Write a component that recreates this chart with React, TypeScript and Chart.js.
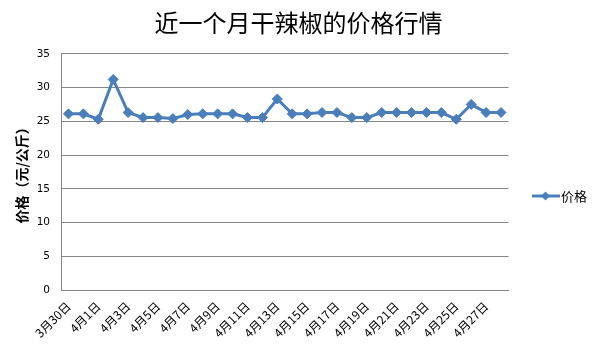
import React, { useEffect, useRef } from "react";
import { Chart, registerables } from "chart.js";

Chart.register(...registerables);

const titleText = "近一个月干辣椒的价格行情";
const yAxisTitle = "价格（元/公斤）";
const seriesName = "价格";

const categories = [
  "3月30日", "3月31日", "4月1日", "4月2日", "4月3日", "4月4日", "4月5日", "4月6日",
  "4月7日", "4月8日", "4月9日", "4月10日", "4月11日", "4月12日", "4月13日", "4月14日",
  "4月15日", "4月16日", "4月17日", "4月18日", "4月19日", "4月20日", "4月21日", "4月22日",
  "4月23日", "4月24日", "4月25日", "4月26日", "4月27日", "4月28日",
];

const prices = [
  26.1, 26.1, 25.3, 31.2, 26.3, 25.55, 25.55, 25.4,
  26.0, 26.1, 26.1, 26.1, 25.55, 25.55, 28.3, 26.1,
  26.1, 26.3, 26.3, 25.55, 25.55, 26.3, 26.3, 26.3,
  26.3, 26.3, 25.3, 27.5, 26.3, 26.3,
];

const yTicks = [0, 5, 10, 15, 20, 25, 30, 35];

const BLUE = "#4A7EBB";
const GRID = "#868686";

function makeLegendIcon(): HTMLCanvasElement {
  const c = document.createElement("canvas");
  c.width = 28;
  c.height = 10;
  const ctx = c.getContext("2d")!;
  ctx.strokeStyle = BLUE;
  ctx.lineWidth = 3;
  ctx.beginPath();
  ctx.moveTo(0, 5);
  ctx.lineTo(28, 5);
  ctx.stroke();
  ctx.fillStyle = BLUE;
  ctx.beginPath();
  ctx.moveTo(14, 0.5);
  ctx.lineTo(18.5, 5);
  ctx.lineTo(14, 9.5);
  ctx.lineTo(9.5, 5);
  ctx.closePath();
  ctx.fill();
  return c;
}

export default function App() {
  const ref = useRef<HTMLCanvasElement | null>(null);

  useEffect(() => {
    document.body.style.margin = "0";
    if (!ref.current) return;
    const icon = makeLegendIcon();
    const chart = new Chart(ref.current, {
      type: "line",
      data: {
        labels: categories,
        datasets: [
          {
            label: seriesName,
            data: prices,
            borderColor: BLUE,
            backgroundColor: BLUE,
            borderWidth: 3,
            pointStyle: "rectRot",
            pointRadius: 5,
            pointBorderWidth: 1,
            pointBorderColor: BLUE,
            pointBackgroundColor: BLUE,
            tension: 0,
          },
        ],
      },
      options: {
        animation: false,
        responsive: false,
        devicePixelRatio: 1,
        layout: { padding: { left: 0, right: 0, top: 0, bottom: 0 } },
        plugins: {
          title: {
            display: true,
            text: titleText,
            color: "#000",
            font: { family: "'Noto Sans CJK SC'", size: 24, weight: "normal" },
            padding: { top: 8, bottom: 17 },
          },
          legend: {
            display: true,
            position: "right",
            title: {
              display: true,
              text: "",
              font: { size: 10, lineHeight: 1.4 },
              padding: { top: 30, bottom: 0 },
            },
            labels: {
              usePointStyle: true,
              pointStyle: icon as any,
              pointStyleWidth: 18,
              padding: 8,
              color: "#000",
              font: { family: "'Noto Sans CJK SC'", size: 13 },
            },
          },
          tooltip: { enabled: false },
        },
        scales: {
          x: {
            type: "category",
            offset: true,
            grid: { display: false, drawTicks: false },
            border: { display: true, color: GRID, width: 1 },
            ticks: {
              autoSkip: false,
              maxRotation: 45,
              minRotation: 45,
              padding: 9,
              color: "#000",
              font: { family: "'Noto Sans CJK SC'", size: 12 },
              callback: (_v: any, i: number) => (i % 2 === 0 ? categories[i] : ""),
            },
            afterFit: (s: any) => {
              s.height = 58;
            },
          },
          y: {
            min: 0,
            max: 35,
            afterBuildTicks: (s: any) => {
              s.ticks = yTicks.map((v) => ({ value: v }));
            },
            grid: { color: GRID, drawTicks: false, lineWidth: 1 },
            border: { display: true, color: GRID, width: 1 },
            ticks: {
              padding: 11,
              color: "#000",
              font: { family: "'DejaVu Sans'", size: 10.5 },
            },
            title: {
              display: true,
              text: yAxisTitle,
              color: "#000",
              font: { family: "'Noto Sans CJK SC'", size: 14, weight: "bold" },
              padding: { top: 13, bottom: 0 },
            },
            afterFit: (s: any) => {
              s.width = 61;
            },
          },
          yDummy: {
            position: "right",
            display: true,
            grid: { display: false, drawTicks: false },
            border: { display: false },
            ticks: { display: false },
            afterFit: (s: any) => {
              s.width = 20;
            },
          },
        },
      },
    });
    return () => chart.destroy();
  }, []);

  return (
    <div style={{ width: 597, height: 348 }}>
      <canvas ref={ref} width={597} height={348} style={{ display: "block", width: 597, height: 348 }} />
    </div>
  );
}
